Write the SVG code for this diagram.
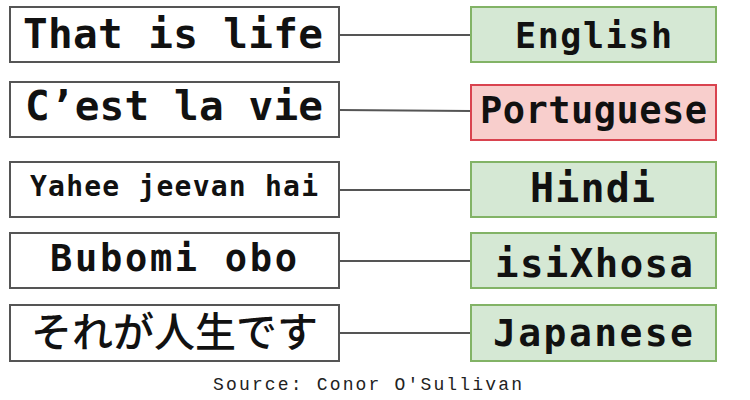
<svg xmlns="http://www.w3.org/2000/svg" width="750" height="400" viewBox="0 0 750 400">
<style>
.src{fill:#ffffff;stroke:#555555;stroke-width:2}
.ok{fill:#d5e8d4;stroke:#82b366;stroke-width:2}
.bad{fill:#f8cecc;stroke:#d9434f;stroke-width:2}
.t{font-family:"DejaVu Sans Mono","Liberation Mono",monospace;font-weight:bold;fill:#111111}
.jp{font-family:"Noto Sans CJK JP",sans-serif;font-weight:500;fill:#111111}
.ln{stroke:#555555;stroke-width:1.8;fill:none}
.cap{font-family:"Liberation Mono","Courier New",monospace;fill:#222222}
</style>
<rect width="750" height="400" fill="#ffffff"/>
<g id="connectors">
<line class="ln" x1="339" y1="35" x2="471" y2="35"/>
<line class="ln" x1="339" y1="110" x2="471" y2="111"/>
<line class="ln" x1="339" y1="190" x2="471" y2="190"/>
<line class="ln" x1="339" y1="261" x2="471" y2="261"/>
<line class="ln" x1="339" y1="333" x2="471" y2="333"/>
</g>
<g id="src1"><rect class="src" x="10" y="7" width="329" height="55"/><text class="t" x="23" y="48" font-size="41" textLength="300">That is life</text></g>
<g id="src2"><rect class="src" x="10" y="82" width="329" height="55"/><text class="t" x="25" y="120" font-size="41" textLength="298">C’est la vie</text></g>
<g id="src3"><rect class="src" x="10" y="162" width="329" height="55"/><text class="t" x="30" y="196" font-size="28" textLength="288">Yahee jeevan hai</text></g>
<g id="src4"><rect class="src" x="10" y="233" width="329" height="55"/><text class="t" x="50" y="271" font-size="37" textLength="247">Bubomi obo</text></g>
<g id="src5"><rect class="src" x="10" y="305" width="329" height="56"/><text class="jp" x="31" y="347" font-size="41" textLength="287">それが人生です</text></g>
<g id="lang1"><rect class="ok" x="471" y="7" width="245" height="55"/><text class="t" x="515" y="48" font-size="35" textLength="157">English</text></g>
<g id="lang2"><rect class="bad" x="471" y="85" width="245" height="55"/><text class="t" x="480" y="123" font-size="37" textLength="227">Portuguese</text></g>
<g id="lang3"><rect class="ok" x="471" y="162" width="245" height="55"/><text class="t" x="530" y="202" font-size="40" textLength="125">Hindi</text></g>
<g id="lang4"><rect class="ok" x="471" y="233" width="245" height="55"/><text class="t" x="495" y="277" font-size="39" textLength="198">isiXhosa</text></g>
<g id="lang5"><rect class="ok" x="471" y="305" width="245" height="56"/><text class="t" x="493" y="346" font-size="38" textLength="200">Japanese</text></g>
<text class="cap" x="213" y="390" font-size="18" textLength="309">Source: Conor O'Sullivan</text>
</svg>
